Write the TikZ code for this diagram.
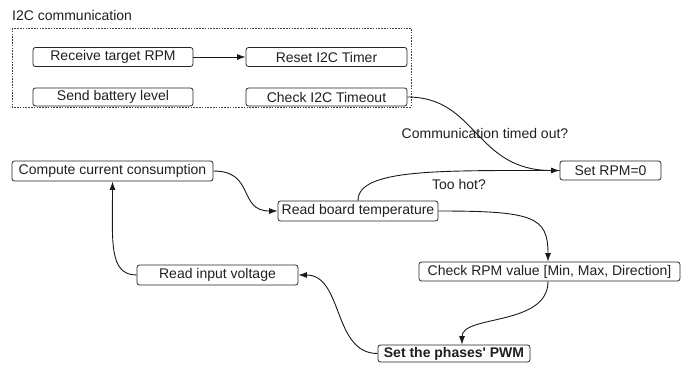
\documentclass[tikz,border=0pt]{standalone}
\usepackage{fontspec}
\setmainfont{Liberation Sans}
\usetikzlibrary{arrows.meta}
\begin{document}
\begin{tikzpicture}[x=1pt,y=-1pt,
  every node/.style={font=\fontsize{14}{16}\selectfont, text=black!88},
  task/.style={draw=black!85, line width=0.8pt, rounded corners=2.5pt, inner sep=0pt, anchor=center},
  link/.style={draw=black!90, line width=0.9pt, -{Latex[length=8.5pt,width=6pt]}},
  plain/.style={draw=black!90, line width=0.9pt},
  note/.style={inner sep=0pt}]
\useasboundingbox (0,0) rectangle (689,365);

% I2C group
\node[note, anchor=west] (grp) at (12,15) {I2C communication};
\draw[black!75, line width=0.6pt, dash pattern=on 1.6pt off 1.2pt] (12,28) rectangle (411,107);

\node[task, minimum width=160pt, minimum height=19pt] (rx) at (113,57) {Receive target RPM};
\node[task, minimum width=161pt, minimum height=19pt] (rst) at (326.5,57) {Reset I2C Timer};
\node[task, minimum width=160pt, minimum height=18pt] (bat) at (113,97) {Send battery level};
\node[task, minimum width=161pt, minimum height=18pt] (cto) at (326.5,97) {Check I2C Timeout};

% main loop
\node[task, minimum width=201pt, minimum height=20pt] (ccc) at (112.5,171) {Compute current consumption};
\node[task, minimum width=160pt, minimum height=20pt] (rbt) at (358,211) {Read board temperature};
\node[task, minimum width=101pt, minimum height=19pt] (rz) at (610.5,170.5) {Set RPM=0};
\node[task, minimum width=261pt, minimum height=19pt] (crv) at (549.5,271.5) {Check RPM value [Min, Max, Direction]};
\node[task, minimum width=161pt, minimum height=20pt] (riv) at (217.5,275) {Read input voltage};
\node[task, minimum width=152pt, minimum height=17pt] (pwm) at (454,353.5) {\bfseries Set the phases\textquotesingle\ PWM};

% condition labels
\node[note] (lto) at (485,133) {Communication timed out?};
\node[note] (lhot) at (459,184) {Too hot?};

% connectors
\draw[link] (rx.east) -- (rst.west);
\draw[link] (cto.east) .. controls +(70,0) and +(-85,0) .. (rz.west);
\draw[plain] (rbt.north) .. controls +(0,-32) and +(-120,0) .. (rz.west);
\draw[link] (ccc.east) .. controls +(42,0) and +(-40,0) .. (rbt.west);
\draw[link] (rbt.east) .. controls +(95,0) and +(0,-45) .. ([xshift=-1.5pt]crv.north);
\draw[link] ([xshift=-1.5pt]crv.south) .. controls +(0,45) and +(0,-30) .. ([xshift=8pt]pwm.north);
\draw[link] (pwm.west) .. controls +(-45,0) and +(45,0) .. (riv.east);
\draw[link] (riv.west) .. controls +(-28,0) and +(0,60) .. (ccc.south);
\end{tikzpicture}
\end{document}
